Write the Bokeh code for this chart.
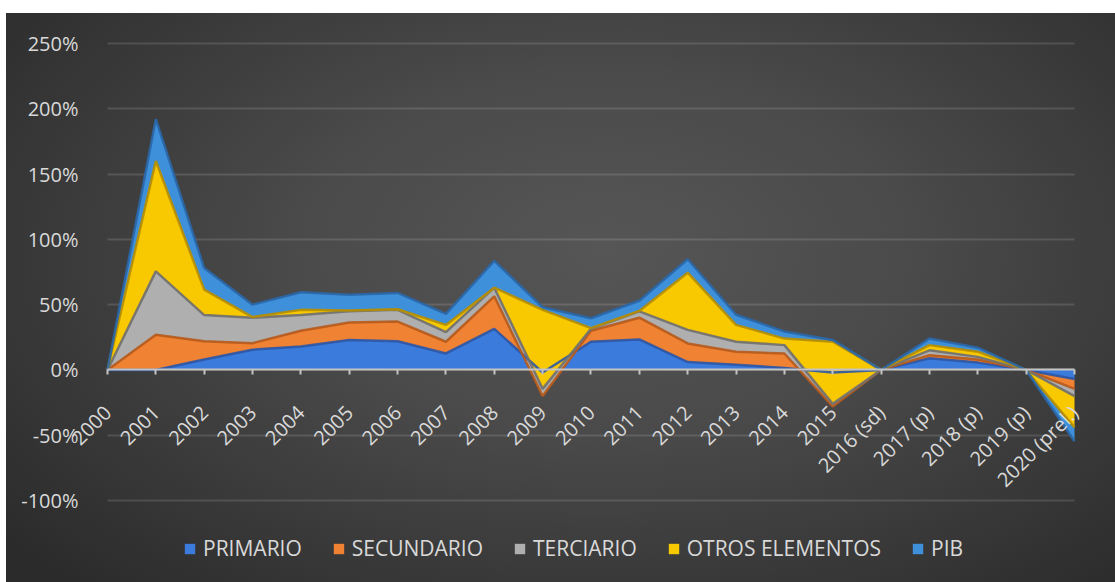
import numpy as np
from bokeh.plotting import figure
from bokeh.models import (FixedTicker, Range1d, Legend, LegendItem,
                          PrintfTickFormatter, ColumnDataSource)
from bokeh.embed import file_html
from bokeh.resources import INLINE

years = ["2000", "2001", "2002", "2003", "2004", "2005", "2006", "2007", "2008",
         "2009", "2010", "2011", "2012", "2013", "2014", "2015", "2016 (sd)",
         "2017 (p)", "2018 (p)", "2019 (p)", "2020 (prel.)"]

# values in percent (stacked series)
primario   = [0, 0, 8, 15.5, 18, 23, 22, 12.6, 31.4, -2, 21.6, 23.4, 6, 4, 1.5, -2, 0, 9, 5.6, 0, -7]
secundario = [0, 27, 14, 5, 12, 13.4, 15, 9, 25, -18, 8.4, 16.6, 14.3, 9.9, 11.1, -26, 0, 2.3, 2.4, 0, -7.5]
terciario  = [0, 48.5, 20, 19.5, 12, 8.6, 9, 7.4, 6.6, 5.5, 1.5, 4.8, 10.4, 7.7, 6.4, 2, 0, 3.7, 2, 0, -5.5]
otros      = [0, 84.5, 19.5, 0.5, 4, 0.5, 0.5, 5.5, 0, 60.5, 0.5, 0.4, 43.8, 12.9, 5, 47.6, 0, 4, 4, 0, -24]
pib        = [0, 32, 16.5, 9.5, 13.5, 12, 12.5, 8.5, 20.5, 2, 7.6, 7.8, 10.3, 7.8, 5.4, 1.4, 0, 5, 3, 0, -10.6]

series_names = ["PRIMARIO", "SECUNDARIO", "TERCIARIO", "OTROS ELEMENTOS", "PIB"]
series_keys = ["primario", "secundario", "terciario", "otros", "pib"]
colors = ["#3b7bdc", "#ef8233", "#afafaf", "#f8c800", "#3f90da"]
edge_colors = ["#2a57a8", "#b85a1a", "#707070", "#b88f00", "#2a67a8"]
y_ticks = [-100, -50, 0, 50, 100, 150, 200, 250]

FONT = "Open Sans"
TXT = "#d9d9d9"

n = len(years)
idx = list(range(n))
src = ColumnDataSource(dict(x=idx, primario=primario, secundario=secundario,
                            terciario=terciario, otros=otros, pib=pib))

p = figure(width=1109, height=569,
           x_range=Range1d(-1.799, n - 1 + 0.331),
           y_range=Range1d(-162.8, 272.98), output_backend="svg",
           toolbar_location=None, min_border_left=14, min_border_right=25,
           min_border_top=0, min_border_bottom=0,
           background_fill_alpha=0, border_fill_alpha=0,
           outline_line_color=None, margin=(13, 0, 0, 6),
           styles={"background": "radial-gradient(ellipse 70% 80% at 54% 42%, #565656 0%, #4a4a4a 40%, #2b2b2b 100%)"})

renderers = p.varea_stack(stackers=series_keys, x="x", color=colors, source=src)

# bevel-like edges along each layer top
cum = np.cumsum(np.array([primario, secundario, terciario, otros, pib], dtype=float), axis=0)
for i in range(5):
    p.line(idx, cum[i], line_color=edge_colors[i], line_width=2.5, line_alpha=0.9)

# y axis, drawn at the first category
ya = p.yaxis[0]
ya.fixed_location = 0
ya.ticker = FixedTicker(ticks=y_ticks)
ya.formatter = PrintfTickFormatter(format="%d%%")
ya.axis_line_color = None
ya.major_tick_line_color = None
ya.minor_tick_line_color = None
ya.major_label_standoff = 23
ya.major_label_text_color = TXT
ya.major_label_text_font = FONT
ya.major_label_text_font_size = "20px"

p.ygrid.ticker = FixedTicker(ticks=y_ticks)
p.ygrid.grid_line_color = "#ffffff"
p.ygrid.grid_line_alpha = 0.13
p.ygrid.grid_line_width = 2
p.ygrid.cross_bounds = (0, n - 1)
p.xgrid.visible = False

# x axis at 0%
xa = p.xaxis[0]
xa.fixed_location = 0
xa.bounds = (0, n - 1)
xa.ticker = FixedTicker(ticks=idx)
xa.major_label_overrides = {i: years[i] for i in idx}
xa.major_label_orientation = np.pi / 4
xa.major_label_text_color = TXT
xa.major_label_text_font = FONT
xa.major_label_text_font_size = "20px"
xa.major_label_standoff = 34
xa.axis_line_color = "#c4c4c4"
xa.axis_line_width = 2
xa.major_tick_line_color = "#c4c4c4"
xa.major_tick_line_width = 2
xa.major_tick_out = 5
xa.major_tick_in = 0
xa.minor_tick_line_color = None

legend = Legend(items=[LegendItem(label=nm, renderers=[r]) for nm, r in zip(series_names, renderers)],
                location=(163, 20), orientation="horizontal",
                background_fill_alpha=0, border_line_alpha=0,
                label_text_color=TXT, label_text_font=FONT, label_text_font_size="21px",
                glyph_width=13, glyph_height=13, spacing=30, label_standoff=7,
                padding=0, margin=0)
p.add_layout(legend)

open("out.html", "w").write(file_html(p, INLINE))
